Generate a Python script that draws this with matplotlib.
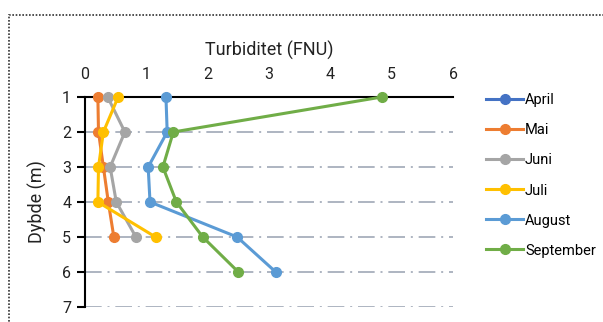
import matplotlib
matplotlib.use('Agg')
import matplotlib.pyplot as plt
from matplotlib.patches import Rectangle

# turbidity profiles (FNU) per month, by depth (m)
depth = [1, 2, 3, 4, 5, 6]
april = []
mai = [0.21, 0.22, 0.30, 0.38, 0.47]
juni = [0.37, 0.65, 0.41, 0.51, 0.83]
juli = [0.54, 0.30, 0.22, 0.21, 1.15]
august = [1.32, 1.34, 1.03, 1.06, 2.48, 3.11]
september = [4.84, 1.44, 1.27, 1.49, 1.92, 2.50]

months = ['April', 'Mai', 'Juni', 'Juli', 'August', 'September']
series = [april, mai, juni, juli, august, september]
colors = ['#4472C4', '#ED7D31', '#A5A5A5', '#FFC000', '#5B9BD5', '#70AD47']

plt.rcParams['font.family'] = ['Roboto', 'DejaVu Sans']

fig = plt.figure(figsize=(6.03, 3.22), dpi=100)
ax = fig.add_axes([85 / 603, 1 - 307 / 322, 368 / 603, 210 / 322])

# dotted frame of the chart area
fig.patches.append(Rectangle((8.5 / 603, -0.1), 1.0, 1 - 15 / 322 + 0.1,
                             transform=fig.transFigure, fill=False,
                             ec='#333333', lw=1.2, ls=(0, (1, 1))))

for vals, name, c in zip(series, months, colors):
    ax.plot(vals, depth[:len(vals)], color=c, lw=2.2, marker='o',
            markersize=7, label=name, zorder=3, clip_on=False)

for d in range(2, 8):
    ax.axhline(d, color='#A0A8B6', lw=1.2, ls=(0, (10, 3.5, 1.2, 3.5)), zorder=1)

ax.set_xlim(0, 6)
ax.set_ylim(7, 1)
ax.set_xticks(range(0, 7))
ax.set_yticks(range(1, 8))
ax.xaxis.tick_top()
ax.xaxis.set_label_position('top')
ax.tick_params(axis='x', length=0, pad=11, labelsize=11.5, colors='#222222')
ax.tick_params(axis='y', length=6, width=1.5, direction='out', pad=4,
               labelsize=11.5, colors='black', labelcolor='#222222')

for s in ['right', 'bottom']:
    ax.spines[s].set_visible(False)
ax.spines['top'].set_linewidth(1.5)
ax.spines['top'].set_zorder(2)
ax.spines['left'].set_linewidth(1.5)

ax.set_xlabel('Turbiditet (FNU)', fontsize=13, labelpad=8, color='#222222')
ax.set_ylabel('Dybde (m)', fontsize=13, color='#222222')
ax.yaxis.set_label_coords(-38 / 368, 0.5)

ax.legend(loc='upper left', bbox_to_anchor=(1.075, 1.045), frameon=False,
          fontsize=10.5, labelspacing=1.1, handlelength=2.5,
          handletextpad=0.15, borderaxespad=0)

fig.savefig('out.png', dpi=100)
